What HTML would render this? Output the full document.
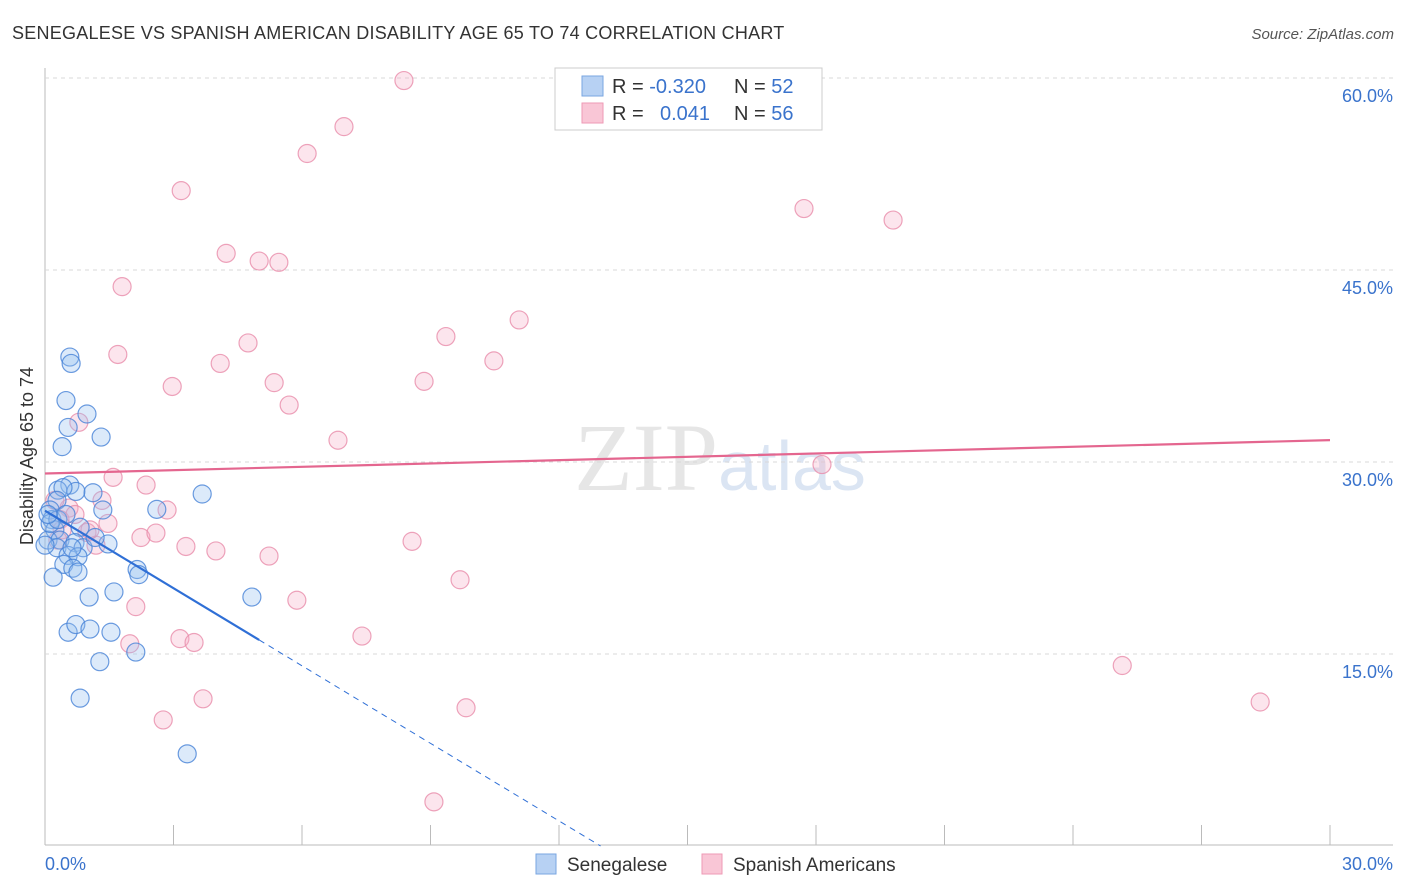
<!DOCTYPE html>
<html><head><meta charset="utf-8"><style>
body{margin:0;background:#fff;font-family:"Liberation Sans",sans-serif}
</style></head><body>
<svg id="c" width="1406" height="892" style="display:block">
<text x="12" y="39" font-size="18" fill="#333" letter-spacing="0.24">SENEGALESE VS SPANISH AMERICAN DISABILITY AGE 65 TO 74 CORRELATION CHART</text>
<text x="1394" y="39" font-size="15" fill="#555" font-style="italic" text-anchor="end">Source: ZipAtlas.com</text>
<text x="33" y="456" font-size="18" fill="#333" text-anchor="middle" transform="rotate(-90 33 456)">Disability Age 65 to 74</text>
<text x="720" y="490" font-size="96" fill="#e6e6e6" text-anchor="middle" font-family="Liberation Serif,serif">ZIP<tspan fill="#dbe5f3" font-family="Liberation Sans,sans-serif" font-size="70">atlas</tspan></text>
<g id="grid"></g><g id="marks"></g>
<g>
<rect x="555" y="68" width="267" height="62" fill="#fff" stroke="#ccc"/>
<rect x="582" y="76" width="21" height="20" fill="#b7d1f3" stroke="#7aa6e0"/>
<rect x="582" y="103" width="21" height="20" fill="#f9c6d6" stroke="#ee9ab5"/>
<text x="612" y="93" font-size="20" fill="#333">R = <tspan fill="#3a73cc">-0.320</tspan></text>
<text x="734" y="93" font-size="20" fill="#333">N = <tspan fill="#3a73cc">52</tspan></text>
<text x="612" y="120" font-size="20" fill="#333">R = </text><text x="660" y="120" font-size="20" fill="#3a73cc">0.041</text>
<text x="734" y="120" font-size="20" fill="#333">N = <tspan fill="#3a73cc">56</tspan></text>
</g>
<g>
<rect x="536" y="854" width="20" height="20" fill="#b7d1f3" stroke="#7aa6e0"/>
<text x="567" y="871" font-size="19" fill="#333">Senegalese</text>
<rect x="702" y="854" width="20" height="20" fill="#f9c6d6" stroke="#ee9ab5"/>
<text x="733" y="871" font-size="19" fill="#333">Spanish Americans</text>
</g>
</svg>
<script>
const yTicks=[15,30,45,60];
const xTickLabels=["0.0%","30.0%"];
const blueX=[0.58,0.61,0.49,0.98,0.54,1.31,0.40,1.12,3.67,0.58,0.30,0.72,0.42,0.28,1.35,2.61,0.12,0.16,0.82,0.23,0.07,0.35,0.70,1.47,0.89,0.28,0.54,0.77,0.44,0.65,0.77,2.15,2.19,0.19,1.03,1.61,4.83,0.54,0.72,1.05,1.54,2.12,1.28,0.82,3.32,0.12,0,0.30,0.63,1.17,0.49,0.07];
const blueY=[38.2,37.7,34.8,33.75,32.7,31.95,31.2,27.6,27.5,28.2,27.8,27.7,28.0,27.0,26.25,26.3,26.25,25.5,24.9,24.7,23.9,23.9,23.7,23.6,23.3,23.3,22.7,22.6,22.0,21.7,21.4,21.6,21.2,21.0,19.45,19.85,19.45,16.7,17.3,16.95,16.7,15.15,14.4,11.55,7.2,25.2,23.5,25.5,23.3,24.1,25.9,25.9];
const pinkX=[8.38,6.98,6.12,3.18,17.72,19.8,4.23,5.0,5.46,1.80,11.07,9.36,4.74,1.70,10.48,4.09,2.97,8.85,5.35,5.70,0.79,6.84,18.14,1.59,2.36,1.33,2.85,0.56,1.47,0.98,2.24,2.59,3.29,3.99,8.57,5.23,1.19,9.69,5.88,2.12,7.40,3.15,3.48,1.98,25.15,3.69,28.37,2.76,9.83,9.08,0.35,0.23,0.40,0.70,1.05,0.30];
const pinkY=[59.8,56.2,54.1,51.2,49.8,48.9,46.3,45.7,45.6,43.7,41.1,39.8,39.3,38.4,37.9,37.7,35.9,36.3,36.2,34.45,33.1,31.7,29.8,28.8,28.2,27.0,26.25,26.4,25.2,24.5,24.1,24.45,23.4,23.05,23.8,22.65,23.5,20.8,19.2,18.7,16.4,16.2,15.9,15.8,14.1,11.5,11.25,9.85,10.8,3.45,25.5,27.0,24.7,25.9,24.7,23.9];
const blueLine=[26.2,-2.02];
const pinkLine=[29.1,0.087];
const NS="http://www.w3.org/2000/svg";
const X=v=>45+v*42.833, Y=v=>846-v*12.8;
function mk(p,t,a){const e=document.createElementNS(NS,t);for(const k in a)e.setAttribute(k,a[k]);p.appendChild(e);return e;}
const g=document.getElementById('grid'), m=document.getElementById('marks');
let e=mk(g,'line',{x1:45,y1:68,x2:45,y2:845,stroke:'#bbb'});


e=mk(g,'line',{x1:45,y1:845,x2:1393,y2:845,stroke:'#bbb'});


yTicks.forEach(v=>{
 const l=mk(g,'line',{x1:45,x2:1393,y1:Y(v),y2:Y(v),stroke:'#d8d8d8','stroke-dasharray':'4,4'});
 
 
 const t=mk(g,'text',{x:1393,y:Y(v)+24,'font-size':18,fill:'#3a73cc','text-anchor':'end'});t.textContent=v.toFixed(1)+'%';
 
 
});
for(let i=0;i<=10;i++){const l=mk(g,'line',{x1:X(i*3),x2:X(i*3),y1:825,y2:845,stroke:'#bbb'});
 
 }
[[0,45,'start'],[30,1393,'end']].forEach((d,i)=>{const t=mk(g,'text',{x:d[1],y:870,'font-size':18,fill:'#3a73cc','text-anchor':d[2]});t.textContent=xTickLabels[i];
 
 });
pinkX.forEach((x,i)=>{const c=mk(m,'circle',{cx:X(x),cy:Y(pinkY[i]),r:9,fill:'rgba(246,170,195,0.3)',stroke:'rgba(232,140,170,0.8)','stroke-width':1.2});
 
 });
blueX.forEach((x,i)=>{const c=mk(m,'circle',{cx:X(x),cy:Y(blueY[i]),r:9,fill:'rgba(150,190,240,0.33)',stroke:'rgba(70,130,215,0.8)','stroke-width':1.2});
 
 });
const bx0=5, bx1=-blueLine[0]/blueLine[1];
e=mk(m,'line',{x1:X(0),y1:Y(blueLine[0]),x2:X(bx0),y2:Y(blueLine[0]+blueLine[1]*bx0),stroke:'#2f6fd6','stroke-width':2.2});


e=mk(m,'line',{x1:X(bx0),y1:Y(blueLine[0]+blueLine[1]*bx0),x2:X(bx1),y2:Y(0),stroke:'#2f6fd6','stroke-width':1,'stroke-dasharray':'6,5'});


e=mk(m,'line',{x1:X(0),y1:Y(pinkLine[0]),x2:X(30),y2:Y(pinkLine[0]+pinkLine[1]*30),stroke:'#e4668f','stroke-width':2.2});


</script>
</body></html>
